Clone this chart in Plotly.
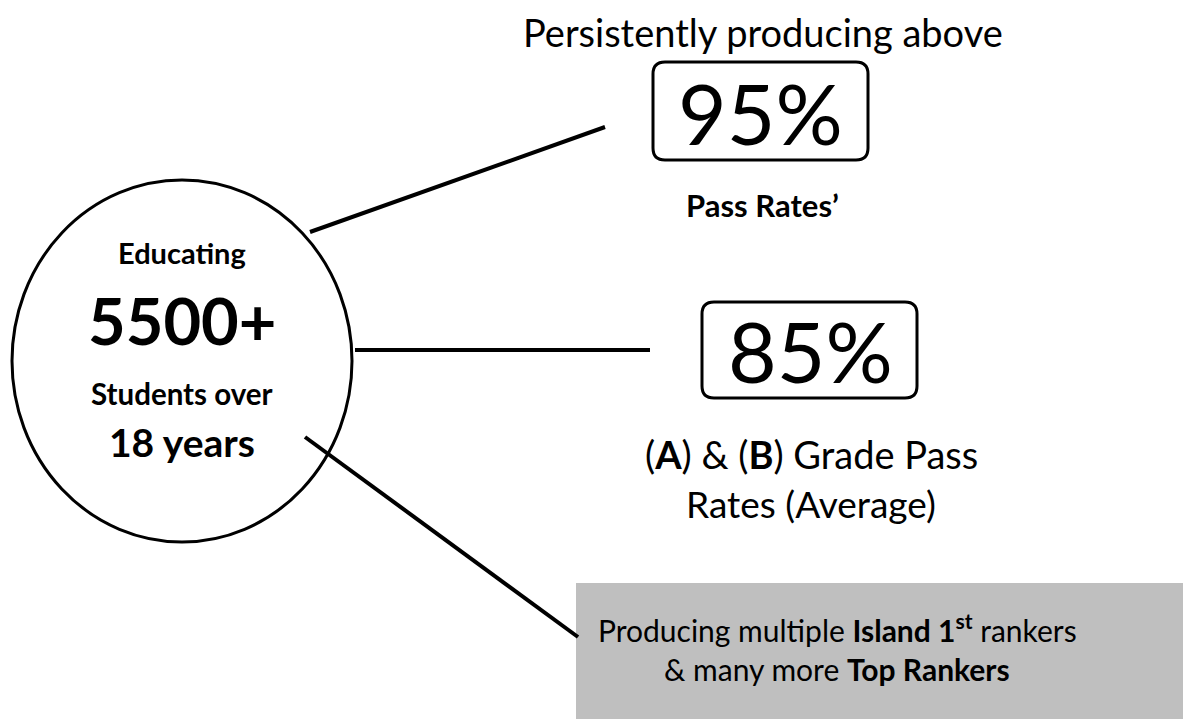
import plotly.graph_objects as go

W, H = 1191, 719
OFF = 8  # page body margin compensation
FONT = "Lato"

# ---- content ----
header_text = "Persistently producing above"
stat_values = ["95%", "85%"]
stat_caption_1 = ["<b>Pass Rates’</b>"]
stat_caption_2 = ["(<b>A</b>) & (<b>B</b>) Grade Pass", "Rates (Average)"]
center_lines = ["<b>Educating</b>", "<b>5500+</b>", "<b>Students over</b>", "<b>18 years</b>"]
ranker_lines = ["Producing multiple <b>Island 1<sup>st</sup></b> rankers", "& many more <b>Top Rankers</b>"]

# ---- layout geometry (pixels) ----
circle_c = (182, 361)
circle_rx, circle_ry = 170, 181
center_y = [252, 320, 393, 442]
center_sz = [29, 65, 29.5, 39]

connectors = [((310, 232), (605, 127)), ((355, 350), (650, 350)), ((305, 437), (578, 637))]
boxes = [(653, 868, 62, 160), (702, 917, 302, 398)]


def rrect(x0, x1, y0, y1, r):
    return (f"M {x0+r},{y0} L {x1-r},{y0} Q {x1},{y0} {x1},{y0+r} L {x1},{y1-r} "
            f"Q {x1},{y1} {x1-r},{y1} L {x0+r},{y1} Q {x0},{y1} {x0},{y1-r} "
            f"L {x0},{y0+r} Q {x0},{y0} {x0+r},{y0} Z")


fig = go.Figure()

shapes = []
shapes.append(dict(type="rect", x0=576, x1=1200, y0=583, y1=730, fillcolor="#bfbfbf", line=dict(width=0), layer="below"))
cx, cy = circle_c
shapes.append(dict(type="circle", x0=cx - circle_rx, x1=cx + circle_rx, y0=cy - circle_ry, y1=cy + circle_ry,
                   line=dict(color="black", width=3), fillcolor="white"))
for (a, b) in connectors:
    shapes.append(dict(type="line", x0=a[0], y0=a[1], x1=b[0], y1=b[1], line=dict(color="black", width=4)))
for (x0, x1, y0, y1) in boxes:
    shapes.append(dict(type="path", path=rrect(x0, x1, y0, y1, 12), line=dict(color="black", width=3)))

ann = []
def T(x, y, text, size):
    ann.append(dict(x=x, y=y, xref="x", yref="y", text=text, showarrow=False,
                    font=dict(family=FONT, size=size, color="black"), xanchor="center", yanchor="middle"))

T(763, 32, header_text, 38)
T(760, 112, stat_values[0], 84)
T(762, 205, stat_caption_1[0], 31)
T(810, 350, stat_values[1], 84)
T(811, 454, stat_caption_2[0], 38)
T(811, 503, stat_caption_2[1], 37)
for t, y, s in zip(center_lines, center_y, center_sz):
    T(cx, y, t, s)
T(837, 628, ranker_lines[0], 30)
T(837, 669, ranker_lines[1], 30)

fig.update_layout(
    width=W, height=H, margin=dict(l=0, r=0, t=0, b=0),
    paper_bgcolor="white", plot_bgcolor="white",
    xaxis=dict(range=[OFF, W + OFF], visible=False, fixedrange=True),
    yaxis=dict(range=[H + OFF, OFF], visible=False, fixedrange=True),
    shapes=shapes, annotations=ann, showlegend=False,
)
fig.write_html("out.html")
